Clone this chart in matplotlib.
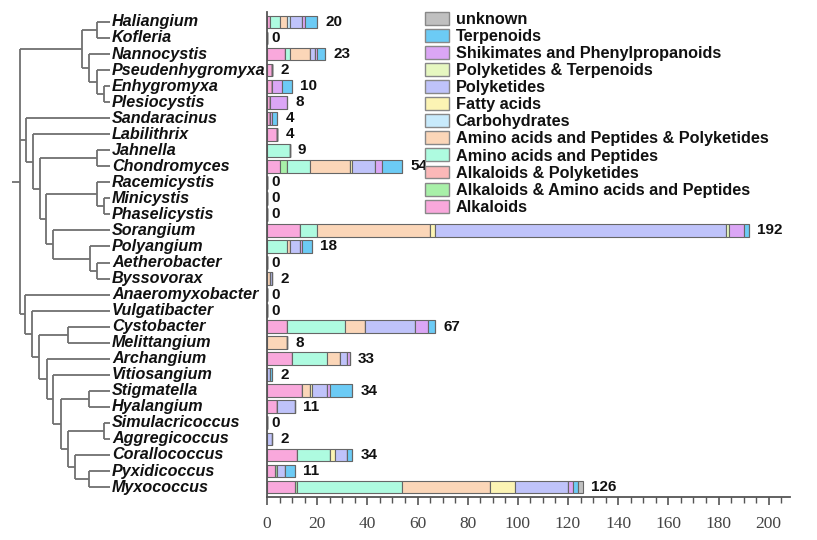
import numpy as np
import matplotlib.pyplot as plt
from matplotlib.patches import Patch

# genera, top to bottom
genera = ["Haliangium", "Kofleria", "Nannocystis", "Pseudenhygromyxa", "Enhygromyxa",
          "Plesiocystis", "Sandaracinus", "Labilithrix", "Jahnella", "Chondromyces",
          "Racemicystis", "Minicystis", "Phaselicystis", "Sorangium", "Polyangium",
          "Aetherobacter", "Byssovorax", "Anaeromyxobacter", "Vulgatibacter", "Cystobacter",
          "Melittangium", "Archangium", "Vitiosangium", "Stigmatella", "Hyalangium",
          "Simulacricoccus", "Aggregicoccus", "Corallococcus", "Pyxidicoccus", "Myxococcus"]

# stacking order (first = leftmost segment)
categories = ["Alkaloids", "Alkaloids & Amino acids and Peptides", "Alkaloids & Polyketides",
              "Amino acids and Peptides", "Amino acids and Peptides & Polyketides",
              "Carbohydrates", "Fatty acids", "Polyketides", "Polyketides & Terpenoids",
              "Shikimates and Phenylpropanoids", "Terpenoids", "unknown"]
colors = ["#f9a8dc", "#a8f0a8", "#fbb8b8", "#aefbe0", "#fbd6b8", "#c8eafb",
          "#fcf4b4", "#bfc3fa", "#e6f7c0", "#dba6f5", "#6ccbf5", "#c0c0c0"]

#                     Hal Kof Nan Pse Enh Ple San Lab Jah Cho Rac Min Pha Sor Pol Aet Bys Ana Vul Cys Mel Arc Vit Sti Hya Sim Agg Cor Pyx Myx
alkaloids          = [1,  0,  7,  2,  2,  1,  1,  4,  0,  5,  0,  0,  0,  13, 0,  0,  0,  0,  0,  8,  0,  10, 0,  14, 4,  0,  0,  12, 3,  11]
alk_aap            = [0,  0,  0,  0,  0,  0,  0,  0,  0,  3,  0,  0,  0,  0,  0,  0,  0,  0,  0,  0,  0,  0,  0,  0,  0,  0,  0,  0,  1,  1]
alk_pk             = [0,  0,  0,  0,  0,  0,  0,  0,  0,  0,  0,  0,  0,  0,  0,  0,  0,  0,  0,  0,  0,  0,  0,  0,  0,  0,  0,  0,  0,  0]
aap                = [4,  0,  2,  0,  0,  0,  0,  0,  9,  9,  0,  0,  0,  7,  8,  0,  0,  0,  0,  23, 0,  14, 0,  0,  0,  0,  0,  13, 0,  42]
aap_pk             = [3,  0,  8,  0,  0,  0,  0,  0,  0,  16, 0,  0,  0,  45, 1,  0,  1,  0,  0,  8,  8,  5,  0,  3,  0,  0,  0,  0,  0,  35]
carbohydrates      = [1,  0,  0,  0,  0,  0,  0,  0,  0,  0,  0,  0,  0,  0,  0,  0,  0,  0,  0,  0,  0,  0,  0,  0,  0,  0,  0,  0,  0,  0]
fatty_acids        = [0,  0,  0,  0,  0,  0,  0,  0,  0,  1,  0,  0,  0,  2,  0,  0,  0,  0,  0,  0,  0,  0,  0,  1,  0,  0,  0,  2,  0,  10]
polyketides        = [5,  0,  2,  0,  0,  0,  0,  0,  0,  9,  0,  0,  0,  116, 4, 0,  1,  0,  0,  20, 0,  3,  1,  6,  7,  0,  2,  5,  3,  21]
pk_terp            = [0,  0,  0,  0,  0,  0,  0,  0,  0,  0,  0,  0,  0,  1,  0,  0,  0,  0,  0,  0,  0,  0,  0,  0,  0,  0,  0,  0,  0,  0]
shikimates         = [1,  0,  1,  0,  4,  7,  1,  0,  0,  3,  0,  0,  0,  6,  1,  0,  0,  0,  0,  5,  0,  1,  0,  1,  0,  0,  0,  0,  0,  2]
terpenoids         = [5,  0,  3,  0,  4,  0,  2,  0,  0,  8,  0,  0,  0,  2,  4,  0,  0,  0,  0,  3,  0,  0,  1,  9,  0,  0,  0,  2,  4,  2]
unknown            = [0,  0,  0,  0,  0,  0,  0,  0,  0,  0,  0,  0,  0,  0,  0,  0,  0,  0,  0,  0,  0,  0,  0,  0,  0,  0,  0,  0,  0,  2]

series = [alkaloids, alk_aap, alk_pk, aap, aap_pk, carbohydrates, fatty_acids,
          polyketides, pk_terp, shikimates, terpenoids, unknown]

# cladogram: (node position, [children]); ints are leaf indices into genera
tree = (20, [
    (82, [(97, [0, 1]), (89, [2, (97, [3, (104, [4, 5])])])]),
    (26, [6, (33, [7, (40, [(97, [8, 9]),
                            (46, [(97, [10, (104, [11, 12])]),
                                  (53, [13, (90, [14, (97, [15, 16])])])])])])]),
    (25, [17, (32, [18, (39, [(68, [19, 20]),
                              (47, [21, (53, [22, (61, [(89, [23, 24]),
                                                        (68, [(104, [25, 26]),
                                                              (75, [27, (89, [28, 29])])])])])])])])]),
])
leaf_end = 110

fig = plt.figure(figsize=(8.17, 5.40), dpi=100)
bottom = 1 - 497 / 540
height = (497 - 12) / 540
ylim = (len(genera) - 0.38, -0.62)

# ---- tree panel
tax = fig.add_axes([0, bottom, 267 / 817, height])
tax.set_xlim(0, 267)
tax.set_ylim(*ylim)
tax.axis('off')

line_kw = dict(color='#707070', lw=1.3, solid_capstyle='butt')


def draw(node):
    # returns (x, y) of node
    if isinstance(node, int):
        return leaf_end, node
    x, kids = node
    ys = []
    for k in kids:
        kx, ky = draw(k)
        tax.plot([x, kx], [ky, ky], **line_kw)
        ys.append(ky)
    tax.plot([x, x], [ys[0], ys[-1]], **line_kw)
    return x, (ys[0] + ys[-1]) / 2


rx, ry = draw(tree)
tax.plot([12, rx], [ry, ry], **line_kw)

for i, g in enumerate(genera):
    tax.text(leaf_end + 2, i, g, va='center', ha='left', fontsize=11.6,
             fontweight='bold', fontstyle='italic', family=['Liberation Sans', 'DejaVu Sans'],
             color='#111111')

# ---- bar panel
ax = fig.add_axes([267 / 817, bottom, 523 / 817, height])
ax.patch.set_visible(False)
y = np.arange(len(genera))
left = np.zeros(len(genera))
for vals, c in zip(series, colors):
    vals = np.array(vals)
    ax.barh(y, vals, left=left, height=0.8, color=c, edgecolor='#666666', linewidth=0.8)
    left += vals

for i, t in enumerate(left):
    ax.annotate(str(int(t)), (t, i), xytext=(6 if t > 0 else 3, 0), textcoords='offset points',
                va='center', ha='left', fontsize=11, fontweight='bold',
                family=['Liberation Sans Narrow', 'Liberation Sans', 'DejaVu Sans'], color='#111111')

ax.set_xlim(0, 208.5)
ax.set_ylim(*ylim)
ax.set_yticks([])
ax.set_xticks(np.arange(0, 201, 20))
ax.set_xticks(np.arange(0, 206, 5), minor=True)
for s in ['top', 'right']:
    ax.spines[s].set_visible(False)
for s in ['left', 'bottom']:
    ax.spines[s].set_color('#555555')
    ax.spines[s].set_linewidth(1.3)
ax.tick_params(axis='x', which='major', length=6, width=1.2, color='#555555',
               labelsize=12.5, labelcolor='#444444', pad=8)
ax.tick_params(axis='x', which='minor', length=4, width=1.0, color='#555555')
for lab in ax.get_xticklabels():
    lab.set_family(['Liberation Serif', 'DejaVu Serif'])

handles = [Patch(facecolor=c, edgecolor='#888888', label=n) for n, c in zip(categories, colors)]
leg = fig.legend(handles=handles[::-1], loc='upper left', bbox_to_anchor=(425 / 817, 1 - 12 / 540),
                 frameon=False, handlelength=1.45, handleheight=0.85, labelspacing=0.12,
                 handletextpad=0.45, borderpad=0, borderaxespad=0,
                 prop={'weight': 'bold', 'size': 11.7, 'family': ['Liberation Sans', 'DejaVu Sans']})
for t in leg.get_texts():
    t.set_color('#111111')

fig.savefig('out.png', dpi=100)
